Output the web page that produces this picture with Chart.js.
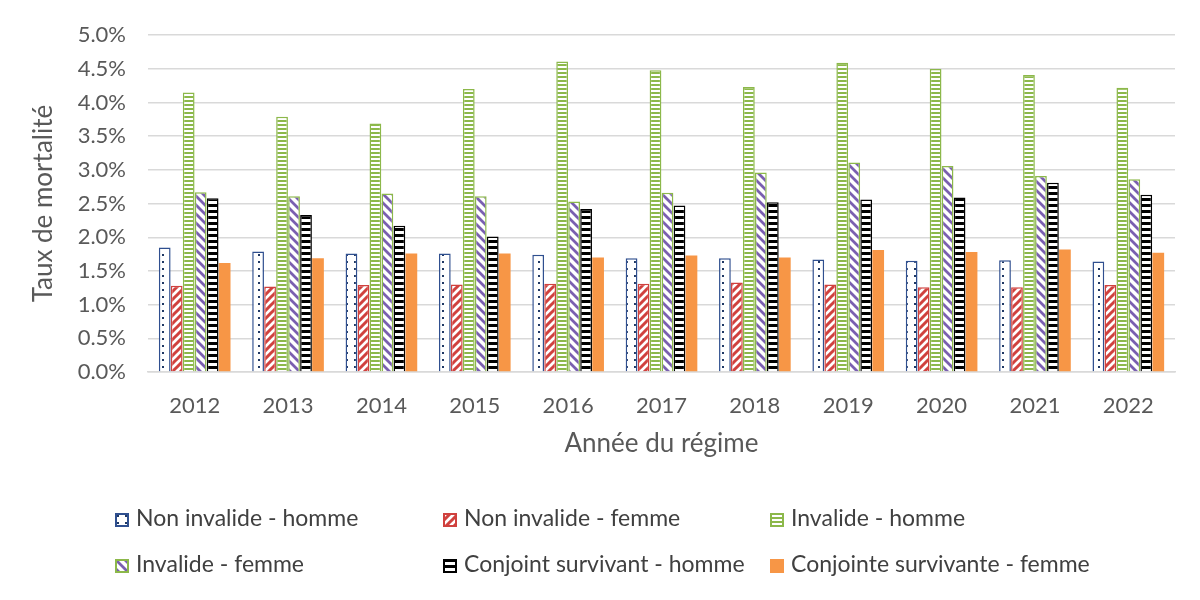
<!DOCTYPE html>
<html lang="fr">
<head>
<meta charset="utf-8">
<script src="https://cdn.jsdelivr.net/npm/chart.js@4"></script>
<style>
  body { margin: 0; background: #fff; }
  #boite { position: relative; width: 1200px; height: 600px; }
  #legende div { position: absolute; font-family: Lato, sans-serif; font-size: 23px; color: #404040; white-space: nowrap; }
  #legende canvas { vertical-align: -1px; margin-right: 7px; }
</style>
</head>
<body>
<div id="boite">
  <canvas id="graphique" width="1200" height="600"></canvas>
  <div id="legende"></div>
</div>
<script>
// Données (taux en %)
const annees = ['2012', '2013', '2014', '2015', '2016', '2017', '2018', '2019', '2020', '2021', '2022'];
const nonInvalideHomme = [1.85, 1.79, 1.76, 1.76, 1.74, 1.69, 1.69, 1.67, 1.65, 1.66, 1.64];
const nonInvalideFemme = [1.28, 1.27, 1.29, 1.30, 1.31, 1.31, 1.33, 1.30, 1.26, 1.26, 1.29];
const invalideHomme = [4.15, 3.79, 3.69, 4.20, 4.61, 4.48, 4.23, 4.59, 4.50, 4.41, 4.22];
const invalideFemme = [2.67, 2.61, 2.65, 2.61, 2.53, 2.66, 2.96, 3.11, 3.06, 2.91, 2.86];
const conjointHomme = [2.58, 2.33, 2.17, 2.01, 2.42, 2.47, 2.52, 2.56, 2.59, 2.81, 2.63];
const conjointeFemme = [1.62, 1.69, 1.76, 1.76, 1.70, 1.73, 1.70, 1.81, 1.78, 1.82, 1.77];
const graduations = ['0.0%', '0.5%', '1.0%', '1.5%', '2.0%', '2.5%', '3.0%', '3.5%', '4.0%', '4.5%', '5.0%'];

// Motifs de remplissage
function motif(type) {
    const c = document.createElement('canvas');
    const g = c.getContext('2d');
    if (type === 'points') {
        c.width = 8; c.height = 7;
        g.fillStyle = '#fff'; g.fillRect(0, 0, 8, 7);
        g.fillStyle = '#1F3864'; g.fillRect(2, 2, 2, 2);
    } else if (type === 'rouge') {
        c.width = 8; c.height = 8;
        g.fillStyle = '#fff'; g.fillRect(0, 0, 8, 8);
        g.strokeStyle = '#D0413E'; g.lineWidth = 3;
        g.beginPath();
        g.moveTo(-2, 10); g.lineTo(10, -2);
        g.moveTo(-2, 2); g.lineTo(2, -2);
        g.moveTo(6, 10); g.lineTo(10, 6);
        g.stroke();
    } else if (type === 'vert') {
        c.width = 4; c.height = 4;
        g.fillStyle = '#fff'; g.fillRect(0, 0, 4, 4);
        g.fillStyle = '#8CB84A'; g.fillRect(0, 0, 4, 2);
    } else if (type === 'violet') {
        c.width = 9; c.height = 9;
        g.fillStyle = '#fff'; g.fillRect(0, 0, 9, 9);
        g.strokeStyle = '#7A5FB0'; g.lineWidth = 2.8;
        g.beginPath();
        g.moveTo(-2, -2); g.lineTo(11, 11);
        g.moveTo(7, -2); g.lineTo(11, 2);
        g.moveTo(-2, 7); g.lineTo(2, 11);
        g.stroke();
    } else if (type === 'noir') {
        c.width = 6; c.height = 6;
        g.fillStyle = '#fff'; g.fillRect(0, 0, 6, 6);
        g.fillStyle = '#000'; g.fillRect(0, 0, 6, 3);
    }
    return c;
}

const ctx = document.getElementById('graphique').getContext('2d');
const series = [
    { label: 'Non invalide - homme', data: nonInvalideHomme, motif: 'points', bord: '#2F4F8F' },
    { label: 'Non invalide - femme', data: nonInvalideFemme, motif: 'rouge', bord: '#D0413E' },
    { label: 'Invalide - homme', data: invalideHomme, motif: 'vert', bord: '#8CB84A' },
    { label: 'Invalide - femme', data: invalideFemme, motif: 'violet', bord: '#8CB84A' },
    { label: 'Conjoint survivant - homme', data: conjointHomme, motif: 'noir', bord: '#000000' },
    { label: 'Conjointe survivante - femme', data: conjointeFemme, motif: null, bord: '#F79646' }
];

new Chart(ctx, {
    type: 'bar',
    data: {
        labels: annees,
        datasets: series.map(s => ({
            label: s.label,
            data: s.data,
            backgroundColor: s.motif ? ctx.createPattern(motif(s.motif), 'repeat') : '#F79646',
            borderColor: s.bord,
            borderWidth: s.motif ? 1.5 : 0,
            categoryPercentage: 0.77,
            barPercentage: 0.98
        }))
    },
    options: {
        responsive: false,
        animation: false,
        layout: { padding: { top: 20, right: 25, bottom: 140, left: 0 } },
        plugins: { legend: { display: false }, tooltip: { enabled: false } },
        scales: {
            x: {
                grid: { display: false },
                border: { color: '#D9D9D9', width: 1.5 },
                ticks: { color: '#595959', font: { family: 'Lato', size: 22 }, padding: 13 },
                title: { display: true, text: 'Année du régime', color: '#595959', font: { family: 'Lato', size: 26 }, padding: { top: 2, bottom: 1 } },
                afterFit: function (scale) { scale.height = 88; }
            },
            y: {
                min: 0,
                max: 5,
                grid: { color: '#D9D9D9', lineWidth: 1.5, drawTicks: false },
                border: { display: false },
                ticks: {
                    stepSize: 0.5,
                    color: '#595959',
                    font: { family: 'Lato', size: 22 },
                    padding: 22,
                    callback: function (v, i) { return graduations[i]; }
                },
                title: { display: true, text: 'Taux de mortalité', color: '#595959', font: { family: 'Lato', size: 26 }, padding: { top: 28, bottom: 0 } },
                afterFit: function (scale) { scale.width = 148; }
            }
        }
    }
});

// Légende en HTML, trois colonnes
const positions = [[115, 503], [443, 503], [770, 503], [115, 549], [443, 549], [770, 549]];
const legende = document.getElementById('legende');
series.forEach((s, i) => {
    const d = document.createElement('div');
    d.style.left = positions[i][0] + 'px';
    d.style.top = positions[i][1] + 'px';
    const sw = document.createElement('canvas');
    sw.width = 14; sw.height = 14;
    const g = sw.getContext('2d');
    g.fillStyle = s.motif ? g.createPattern(motif(s.motif), 'repeat') : '#F79646';
    g.fillRect(0, 0, 14, 14);
    if (s.motif) { g.strokeStyle = s.bord; g.lineWidth = 2; g.strokeRect(1, 1, 12, 12); }
    d.appendChild(sw);
    d.appendChild(document.createTextNode(s.label));
    legende.appendChild(d);
});
</script>
</body>
</html>
